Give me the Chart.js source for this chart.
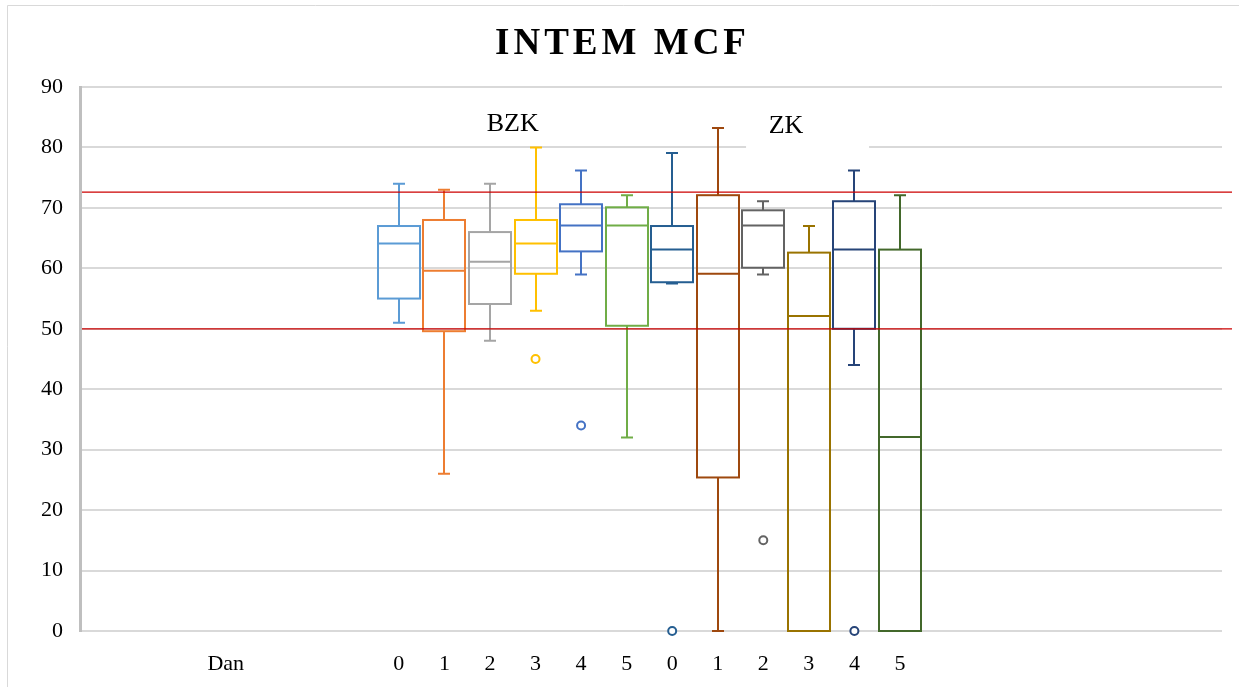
<!DOCTYPE html>
<html>
<head>
<meta charset="utf-8">
<script src="https://cdn.jsdelivr.net/npm/chart.js@4"></script>
<style>
    html, body { margin: 0; padding: 0; background: #ffffff; }
    #wrap { position: relative; width: 1239px; height: 687px; }
</style>
</head>
<body>
<div id="wrap"><canvas id="chart" width="1239" height="687"></canvas></div>
<script>
// Day labels under each box (BZK group, then ZK group)
const DAYS = ['0', '1', '2', '3', '4', '5', '0', '1', '2', '3', '4', '5'];
const AXIS_NAME = 'Dan';
const GROUP_LABELS = ['BZK', 'ZK'];

// Box plot statistics
const WHISKER_LOW  = [51, 26, 48, 53, 59, 32, 57.5, 0, 59, 0, 44, 0];
const Q1           = [55, 49.6, 54.1, 59.1, 62.8, 50.5, 57.7, 25.4, 60.1, 0, 50, 0];
const MEDIAN       = [64.1, 59.6, 61.1, 64.1, 67.1, 67.1, 63.1, 59.1, 67.1, 52.1, 63.1, 32.1];
const Q3           = [67, 68, 66, 68, 70.6, 70.1, 67, 72.1, 69.6, 62.6, 71.1, 63.1];
const WHISKER_HIGH = [74, 73, 74, 80, 76.2, 72.1, 79.1, 83.2, 71.1, 67, 76.2, 72.1];
const OUTLIERS     = [[], [], [], [45], [34], [], [0], [], [15], [], [0], []];

// Reference lines
const LIMITS = [72.6, 50];

const Y_TICKS = [0, 10, 20, 30, 40, 50, 60, 70, 80, 90];

// Excel palette
const COLORS = [
    '#5B9BD5', '#ED7D31', '#A5A5A5', '#FFC000', '#4472C4', '#70AD47',
    '#255E91', '#9E480E', '#636363', '#997300', '#264478', '#43682B'
];

const FONT = "'Liberation Serif', 'DejaVu Serif', serif";

// x layout: box i sits at FIRST_BOX + i, axis label "Dan" sits left of them
const FIRST_BOX = 7;
const NAME_POS = 3.2;
const X_MAX = 25.07;

const boxX = DAYS.map((d, i) => FIRST_BOX + i);

const outlierData = [];
const outlierColors = [];
OUTLIERS.forEach((list, i) => {
    list.forEach(v => {
        outlierData.push({ x: boxX[i], y: v });
        outlierColors.push(COLORS[i]);
    });
});

// Frame, boxes, whiskers, medians, limit lines, title, group notes
const boxPlotPlugin = {
    id: 'boxPlot',
    beforeDraw(chart) {
        const ctx = chart.ctx;
        ctx.save();
        ctx.fillStyle = '#ffffff';
        ctx.fillRect(0, 0, chart.width, chart.height);
        ctx.strokeStyle = '#D9D9D9';
        ctx.lineWidth = 1;
        ctx.beginPath();
        ctx.moveTo(7.5, chart.height);
        ctx.lineTo(7.5, 5.5);
        ctx.lineTo(chart.width, 5.5);
        ctx.stroke();
        ctx.restore();
    },
    afterDatasetsDraw(chart) {
        const ctx = chart.ctx;
        const xs = chart.scales.x;
        const ys = chart.scales.y;
        const half = 21;
        const cap = 6;
        ctx.save();
        ctx.lineWidth = 2;
        boxX.forEach((x, i) => {
            const px = Math.round(xs.getPixelForValue(x));
            const pq1 = ys.getPixelForValue(Q1[i]);
            const pq3 = ys.getPixelForValue(Q3[i]);
            const pm = ys.getPixelForValue(MEDIAN[i]);
            const phi = ys.getPixelForValue(WHISKER_HIGH[i]);
            const plo = ys.getPixelForValue(WHISKER_LOW[i]);
            ctx.strokeStyle = COLORS[i];
            // box outline, centred on the quartile values
            ctx.strokeRect(px - half, pq3, half * 2, pq1 - pq3);
            ctx.beginPath();
            // median
            ctx.moveTo(px - half, pm);
            ctx.lineTo(px + half, pm);
            // upper whisker
            if (WHISKER_HIGH[i] > Q3[i]) {
                ctx.moveTo(px, pq3);
                ctx.lineTo(px, phi);
                ctx.moveTo(px - cap, phi);
                ctx.lineTo(px + cap, phi);
            }
            // lower whisker
            if (WHISKER_LOW[i] < Q1[i]) {
                ctx.moveTo(px, pq1);
                ctx.lineTo(px, plo);
                ctx.moveTo(px - cap, plo);
                ctx.lineTo(px + cap, plo);
            }
            ctx.stroke();
        });

        // red limit lines
        const area = chart.chartArea;
        ctx.strokeStyle = '#CC0000';
        ctx.lineWidth = 1.3;
        LIMITS.forEach(v => {
            const py = ys.getPixelForValue(v);
            ctx.beginPath();
            ctx.moveTo(area.left + 2, py);
            ctx.lineTo(area.right + 10, py);
            ctx.stroke();
        });
        ctx.restore();
    },
    afterDraw(chart) {
        const ctx = chart.ctx;
        const xs = chart.scales.x;
        const ys = chart.scales.y;
        ctx.save();
        // title with wide letter spacing
        ctx.fillStyle = '#000000';
        ctx.font = "bold 37px " + FONT;
        ctx.textAlign = 'center';
        ctx.textBaseline = 'middle';
        ctx.letterSpacing = '4px';
        ctx.fillText('INTEM MCF', chart.width / 2 + 3, 44);
        ctx.letterSpacing = '0px';

        // group notes: BZK over first group, ZK (on white box) over second
        ctx.font = "26px " + FONT;
        const bzkX = xs.getPixelForValue(FIRST_BOX + 2.5);
        ctx.fillText(GROUP_LABELS[0], bzkX, ys.getPixelForValue(83.9));

        const zkX = xs.getPixelForValue(FIRST_BOX + 8.5);
        const zkTop = ys.getPixelForValue(86.2);
        const zkBot = ys.getPixelForValue(79.8);
        ctx.fillStyle = '#ffffff';
        ctx.fillRect(zkX - 40, zkTop, 123, zkBot - zkTop);
        ctx.fillStyle = '#000000';
        ctx.fillText(GROUP_LABELS[1], zkX, ys.getPixelForValue(83.6));
        ctx.restore();
    }
};

const tickValues = [NAME_POS].concat(boxX);
const tickLabels = [AXIS_NAME].concat(DAYS);

new Chart(document.getElementById('chart'), {
    type: 'scatter',
    data: {
        datasets: [
            {
                label: 'outliers',
                data: outlierData,
                pointStyle: 'circle',
                pointRadius: 4,
                pointBorderWidth: 2,
                pointBackgroundColor: '#ffffff',
                pointBorderColor: outlierColors,
                clip: false
            }
        ]
    },
    options: {
        responsive: false,
        animation: false,
        layout: { padding: { top: 87, right: 17, bottom: 0, left: 0 } },
        plugins: {
            legend: { display: false },
            tooltip: { enabled: false },
            title: { display: false }
        },
        scales: {
            x: {
                type: 'linear',
                min: 0,
                max: X_MAX,
                grid: { display: false },
                border: { display: false },
                afterFit: s => { s.height = 56; },
                afterBuildTicks: s => { s.ticks = tickValues.map(v => ({ value: v })); },
                ticks: {
                    autoSkip: false,
                    maxRotation: 0,
                    padding: 12,
                    color: '#000000',
                    font: { family: FONT, size: 22 },
                    callback: (v, i) => tickLabels[i]
                }
            },
            y: {
                min: 0,
                max: 90,
                afterFit: s => { s.width = 80; },
                afterBuildTicks: s => { s.ticks = Y_TICKS.map(v => ({ value: v })); },
                grid: { color: '#D9D9D9', lineWidth: 2, drawTicks: false },
                border: { display: true, color: '#BFBFBF', width: 3 },
                ticks: {
                    padding: 17,
                    color: '#000000',
                    font: { family: FONT, size: 22 }
                }
            }
        }
    },
    plugins: [boxPlotPlugin]
});
</script>
</body>
</html>
